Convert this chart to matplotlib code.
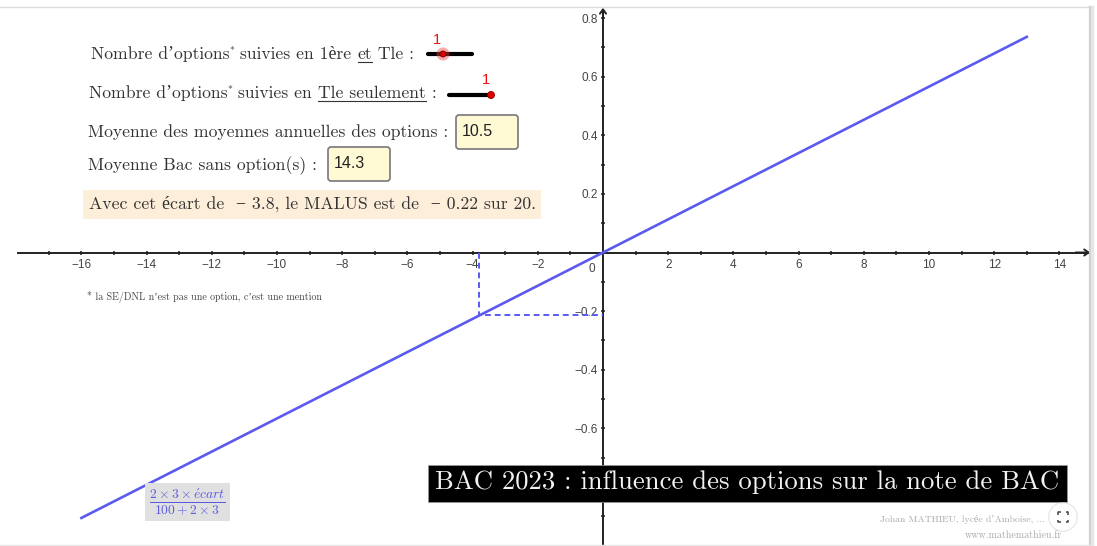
import matplotlib
matplotlib.use("Agg")
import matplotlib.pyplot as plt
from matplotlib.patches import Rectangle, FancyBboxPatch, Circle

plt.rcParams['mathtext.fontset'] = 'cm'
SERIF = ['cmr10', 'Liberation Serif', 'DejaVu Serif']
SANS = ['Liberation Sans', 'DejaVu Sans']

# the function and the dashed construction
line_x = [-16, 13]
line_y = [-0.906, 0.736]
ecart = -3.8
malus = -0.215

x_major = [-16, -14, -12, -10, -8, -6, -4, -2, 2, 4, 6, 8, 10, 12, 14]
x_minor = [-17, -15, -13, -11, -9, -7, -5, -3, -1, 1, 3, 5, 7, 9, 11, 13]
y_major = [-0.8, -0.6, -0.4, -0.2, 0.2, 0.4, 0.6, 0.8]
y_minor = [-0.9, -0.7, -0.5, -0.3, -0.1, 0.1, 0.3, 0.5, 0.7]
# -0.8 sits under the title banner, it can't be seen
y_labels = ['', '\u22120.6', '\u22120.4', '\u22120.2', '0.2', '0.4', '0.6', '0.8']

W, H = 1097, 546
fig = plt.figure(figsize=(W / 100, H / 100), dpi=100)
ax = fig.add_axes([0, 0, 1, 1])
ax.set_xlim((0 - 603) / 32.6, (W - 603) / 32.6)
ax.set_ylim(-(H - 252.5) / 293, 252.5 / 293)

for s in ['top', 'right']:
    ax.spines[s].set_visible(False)
ax.spines['left'].set_position(('data', 0))
ax.spines['bottom'].set_position(('data', 0))
ax.spines['left'].set_linewidth(1.4)
ax.spines['bottom'].set_linewidth(1.4)
ax.spines['left'].set_color('#222222')
ax.spines['bottom'].set_color('#222222')
ax.spines['bottom'].set_bounds(-17.95, 14.9)
ax.spines['left'].set_bounds(-1.0, 0.825)

ax.set_xticks(x_major)
ax.set_xticks(x_minor, minor=True)
ax.set_yticks(y_major)
ax.set_yticks(y_minor, minor=True)
ax.set_xticklabels([str(v).replace('-', '\u2212') for v in x_major], family=SANS)
ax.set_yticklabels(y_labels, family=SANS)
ax.tick_params(which='both', direction='inout', length=3.2, width=1.1, color='#222222')
ax.tick_params(axis='both', labelsize=8.5, labelcolor='#444444')
ax.tick_params(axis='x', pad=3)
ax.tick_params(axis='y', pad=2)

# arrows on the axes
arrow = dict(arrowstyle='->,head_width=0.22,head_length=0.3', color='#222222', lw=1.4, shrinkA=0, shrinkB=0)
ax.annotate('', xy=(14.94, 0), xytext=(14.5, 0), arrowprops=arrow, annotation_clip=False)
ax.annotate('', xy=(0, 0.835), xytext=(0, 0.8), arrowprops=arrow, annotation_clip=False)

ax.plot(line_x, line_y, color='#5a5af0', lw=1.9, zorder=4)
ax.plot([ecart, ecart, 0], [0, malus, malus], color='#5a5af0', lw=1.4, ls=(0, (3, 2)), zorder=4)

ax.text(-0.34, -0.035, '0', family=SANS, fontsize=8.5, color='#444444', ha='center', va='top')

# overlay in image pixels for the applet widgets
ov = fig.add_axes([0, 0, 1, 1], facecolor='none')
ov.set_xlim(0, W)
ov.set_ylim(H, 0)
ov.axis('off')

# frame of the applet
ov.plot([0, 1090], [7, 7], color='#dddddd', lw=1)
ov.plot([1090, 1090], [7, 545], color='#cccccc', lw=1.5)
ov.plot([1092, 1092], [7, 545], color='#e6e6e6', lw=2.5)
ov.plot([0, 1090], [545, 545], color='#e6e6e6', lw=1)

TXT = '#333333'
rend = fig.canvas.get_renderer()


def WriteParts(x, y, parts, size=12.7):
    # parts: (string, style) with style '', 'u' underlined or 's' superscript
    for txt, style in parts:
        if style == 's':
            t = ov.text(x, y - 3, txt, family=SERIF, fontsize=size * 0.55, color=TXT, va='center')
        else:
            t = ov.text(x, y, txt, family=SERIF, fontsize=size, color=TXT, va='center')
        w = t.get_window_extent(rend).width
        if style == 'u':
            ov.plot([x, x + w], [y + 8, y + 8], color=TXT, lw=0.8)
        x += w


WriteParts(91, 54, [('Nombre d\u2019options', ''), ('*', 's'), (' suivies en 1\u00e8re ', ''),
                    ('et', 'u'), (' Tle :', '')])
WriteParts(89, 93, [('Nombre d\u2019options', ''), ('*', 's'), (' suivies en ', ''),
                    ('Tle seulement', 'u'), (' :', '')])
WriteParts(88, 132, [('Moyenne des moyennes annuelles des options :', '')])
WriteParts(88, 166, [('Moyenne Bac sans option(s) :', '')])

# sliders
ov.plot([428, 472], [54, 54], color='black', lw=3, solid_capstyle='round')
ov.add_patch(Circle((443, 54), 6.5, color='#f04040', alpha=0.45, lw=0, zorder=5))
ov.add_patch(Circle((443, 54), 3, facecolor='#e00000', edgecolor='#660000', lw=0.6, zorder=6))
ov.text(437, 40, '1', color='#ee1111', family=SANS, fontsize=10.5, ha='center', va='center')
ov.plot([449, 491], [95, 95], color='black', lw=3, solid_capstyle='round')
ov.add_patch(Circle((491, 95), 3.5, facecolor='#e00000', edgecolor='#880000', lw=0.6, zorder=6))
ov.text(486, 80, '1', color='#ee1111', family=SANS, fontsize=10.5, ha='center', va='center')

# input boxes
for x0, y0, label in [(456, 115, '10.5'), (328, 147, '14.3')]:
    ov.add_patch(FancyBboxPatch((x0 + 2, y0 + 2), 58, 30, boxstyle='round,pad=2,rounding_size=3',
                                facecolor='#fff9d4', edgecolor='#777777', lw=1.2))
    ov.text(x0 + 6, y0 + 17, label, family=SANS, fontsize=11.5, color='#222222', va='center')

# malus line
ov.add_patch(Rectangle((83, 190), 458, 29, facecolor='#fdeeda', edgecolor='none'))
ov.text(89, 204, 'Avec cet \u00e9cart de  \u2212 3.8, le MALUS est de  \u2212 0.22 sur 20.',
        family=SERIF, fontsize=12.75, color=TXT, va='center')

ov.text(87, 297, '* la SE/DNL n\u2019est pas une option, c\u2019est une mention',
        family=SERIF, fontsize=7.2, color='#444444', va='center')

# formula
ov.add_patch(Rectangle((145, 483), 85, 38, facecolor='#e0e0e0', edgecolor='none', zorder=5))
ov.text(187.5, 502, r'$\frac{2\times3\times\acute{e}cart}{100+2\times3}$', color='#5a5ae0',
        fontsize=14, ha='center', va='center', zorder=6)

# title banner
ov.add_patch(Rectangle((428, 465), 639, 37, facecolor='black', edgecolor='#999999', lw=0.5, zorder=5))
ov.text(747, 482, 'BAC 2023 : influence des options sur la note de BAC', family=SERIF,
        fontsize=19.2, color='#f2f2f2', ha='center', va='center', zorder=6)

# credits
ov.text(1045, 520, 'Johan MATHIEU, lyc\u00e9e d\u2019Amboise, ...', family=SERIF, fontsize=7,
        color='#aaaaaa', ha='right', va='center')
ov.text(1062, 535, 'www.mathemathieu.fr', family=SERIF, fontsize=7.2, color='#aaaaaa', ha='right', va='center')

# fullscreen button
ov.add_patch(Circle((1063, 517), 15, facecolor='#dddddd', edgecolor='none', alpha=0.6, zorder=6))
ov.add_patch(Circle((1063, 517), 13.5, facecolor='white', edgecolor='none', zorder=7))
for sx in (-1, 1):
    for sy in (-1, 1):
        ov.plot([1063 + sx * 5, 1063 + sx * 5, 1063 + sx * 2.5], [517 + sy * 2.5, 517 + sy * 5, 517 + sy * 5],
                color='#444444', lw=1.1, zorder=8, solid_capstyle='butt')

fig.savefig('out.png', dpi=100)
